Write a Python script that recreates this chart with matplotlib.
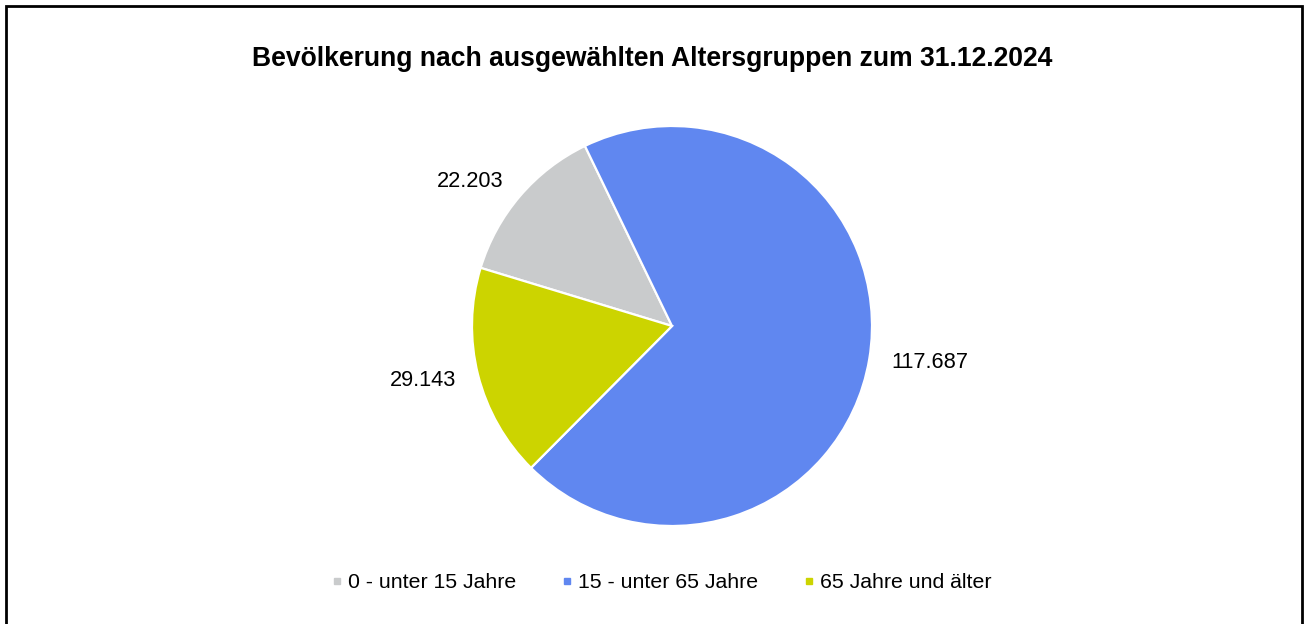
import numpy as np
import matplotlib.pyplot as plt
from matplotlib.lines import Line2D
from matplotlib.patches import Rectangle

plt.rcParams['font.family'] = ['Liberation Sans', 'DejaVu Sans']

# data
gruppen = ["0 - unter 15 Jahre", "15 - unter 65 Jahre", "65 Jahre und älter"]
werte = [22203, 117687, 29143]
farben = ["#C9CBCC", "#6087F0", "#CCD400"]
beschriftung = ["22.203", "117.687", "29.143"]

W, H = 1304, 624
fig = plt.figure(figsize=(W / 100, H / 100), dpi=100)

# pie axes, 400 px square centred at (672, 326)
ax = fig.add_axes([472 / W, 98 / H, 400 / W, 400 / H])
wedges, texts = ax.pie(werte, colors=farben, labels=beschriftung,
                       startangle=163.1, counterclock=False,
                       labeldistance=1.11, radius=1,
                       wedgeprops=dict(edgecolor="white", linewidth=1.6),
                       textprops=dict(fontsize=15.7, color="black"))
ax.set_xlim(-1, 1)
ax.set_ylim(-1, 1)
ax.set_aspect("equal")
for t in texts:
    t.set_clip_on(False)

fig.text(0.5, (H - 59) / H, "Bevölkerung nach ausgewählten Altersgruppen zum 31.12.2024",
         ha="center", va="center", fontsize=19.1, fontweight="bold")

handles = [Line2D([], [], marker="s", linestyle="none", markersize=4.6,
                  markerfacecolor=c, markeredgecolor=c) for c in farben]
fig.legend(handles, gruppen, loc="center",
           bbox_to_anchor=(0.5 + 10 / W, (H - 583) / H),
           ncol=3, frameon=False, fontsize=15.3, handlelength=0.45,
           handletextpad=0.3, columnspacing=2.15)

# chart border
fig.patches.append(Rectangle((6 / W, -0.05), (1302 - 6) / W, (H - 6) / H + 0.05,
                             transform=fig.transFigure, fill=False,
                             edgecolor="black", linewidth=2))

fig.savefig("out.png", dpi=100)
